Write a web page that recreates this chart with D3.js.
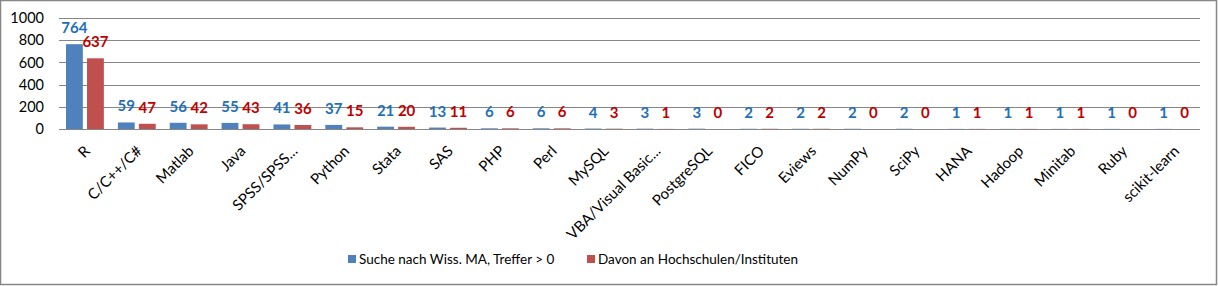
<!DOCTYPE html>
<html>
<head>
<meta charset="utf-8">
<script src="https://cdn.jsdelivr.net/npm/d3@7"></script>
<style>
  body { margin: 0; background: #fff; }
  svg { display: block; font-family: Lato, "Open Sans", sans-serif; }
</style>
</head>
<body>
<div id="chart"></div>
<script>
// Data
const categories = ["R", "C/C++/C#", "Matlab", "Java", "SPSS/SPSS...", "Python", "Stata", "SAS", "PHP", "Perl",
  "MySQL", "VBA/Visual Basic...", "PostgreSQL", "FICO", "Eviews", "NumPy", "SciPy", "HANA", "Hadoop", "Minitab",
  "Ruby", "scikit-learn"];
const searchHits = [764, 59, 56, 55, 41, 37, 21, 13, 6, 6, 4, 3, 3, 2, 2, 2, 2, 1, 1, 1, 1, 1];
const universityHits = [637, 47, 42, 43, 36, 15, 20, 11, 6, 6, 3, 1, 0, 2, 2, 0, 0, 1, 1, 1, 0, 0];
const seriesNames = ["Suche nach Wiss. MA, Treffer > 0", "Davon an Hochschulen/Instituten"];
const yTicks = [0, 200, 400, 600, 800, 1000];

const barColors = ["#4F81BD", "#C0504D"];
const labelColors = ["#2170B8", "#C00000"];

const width = 1218;
const height = 286;
const margin = { top: 18, right: 18, bottom: 157, left: 59 };
const plotW = width - margin.left - margin.right;
const plotH = height - margin.top - margin.bottom;

const svg = d3.select("#chart")
  .append("svg")
  .attr("width", width)
  .attr("height", height);

// outer border
svg.append("rect")
  .attr("x", 0.5).attr("y", 0.5)
  .attr("width", width - 2).attr("height", height - 2)
  .attr("fill", "#fff")
  .attr("stroke", "#868686")
  .attr("stroke-width", 1.5);

const g = svg.append("g")
  .attr("transform", `translate(${margin.left}, ${margin.top})`);

const x0 = d3.scaleBand()
  .domain(categories)
  .range([0, plotW])
  .paddingInner(0.27)
  .paddingOuter(0.135);

const x1 = d3.scaleBand()
  .domain([0, 1])
  .range([0, x0.bandwidth()])
  .paddingInner(0.2);

const y = d3.scaleLinear()
  .domain([0, 1000])
  .range([plotH, 0]);

// gridlines
g.append("g")
  .selectAll("line")
  .data(yTicks)
  .join("line")
  .attr("x1", 0)
  .attr("x2", plotW)
  .attr("y1", (d) => Math.round(y(d)) + 0.5)
  .attr("y2", (d) => Math.round(y(d)) + 0.5)
  .attr("stroke", "#868686")
  .attr("stroke-width", 1);

// y axis labels
const yAxis = d3.axisLeft(y).tickValues(yTicks).tickFormat(d3.format("d")).tickSize(0).tickPadding(15);
g.append("g")
  .call(yAxis)
  .call((s) => s.select(".domain").remove())
  .selectAll("text")
  .attr("font-family", "Lato, sans-serif")
  .attr("font-size", "14.5px")
  .attr("fill", "#000");

// bars
const series = [searchHits, universityHits];
const groups = g.selectAll(".grp")
  .data(categories)
  .join("g")
  .attr("class", "grp")
  .attr("transform", (d) => `translate(${x0(d)}, 0)`);

series.forEach((vals, si) => {
  groups.append("rect")
    .attr("x", x1(si))
    .attr("width", x1.bandwidth())
    .attr("y", (d, i) => y(vals[i]))
    .attr("height", (d, i) => plotH - y(vals[i]))
    .attr("fill", barColors[si]);

  groups.append("text")
    .attr("x", x1(si) + x1.bandwidth() / 2)
    .attr("y", (d, i) => y(vals[i]) - 11)
    .attr("text-anchor", "middle")
    .attr("font-size", "15px")
    .attr("font-weight", "bold")
    .attr("fill", labelColors[si])
    .text((d, i) => vals[i]);
});

// x axis labels
const xAxis = d3.axisBottom(x0).tickSize(0).tickPadding(0);
g.append("g")
  .attr("transform", `translate(0, ${plotH})`)
  .call(xAxis)
  .call((s) => s.select(".domain").remove())
  .selectAll("text")
  .attr("font-family", "Lato, sans-serif")
  .attr("font-size", "15px")
  .attr("fill", "#000")
  .attr("text-anchor", "end")
  .attr("dy", "0")
  .attr("transform", "translate(6, 23) rotate(-45)");

// legend
const legend = svg.append("g").attr("transform", "translate(348, 259)");
const legendX = [0, 239];
seriesNames.forEach((name, i) => {
  legend.append("rect")
    .attr("x", legendX[i])
    .attr("y", -4)
    .attr("width", 8)
    .attr("height", 8)
    .attr("fill", barColors[i]);
  legend.append("text")
    .attr("x", legendX[i] + 11)
    .attr("y", 0)
    .attr("dy", "0.35em")
    .attr("font-size", "13.5px")
    .attr("fill", "#000")
    .text(name);
});
</script>
</body>
</html>
